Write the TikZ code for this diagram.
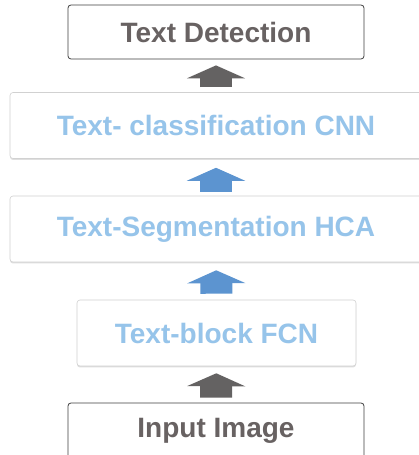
\documentclass[tikz,border=0pt]{standalone}
\usepackage{fontspec}
\setmainfont{Liberation Sans}
\usetikzlibrary{arrows.meta,shadows}
\definecolor{txtgray}{RGB}{104,98,98}
\definecolor{txtblue}{RGB}{150,196,234}
\definecolor{arrgray}{RGB}{100,98,98}
\definecolor{arrblue}{RGB}{92,148,208}
\begin{document}
\begin{tikzpicture}[x=1pt, y=1pt,
    stage/.style={rectangle, rounded corners=3pt, inner sep=0pt, font=\bfseries\fontsize{28}{30}\selectfont},
    endbox/.style={stage, draw=black!75, line width=0.8pt, text=txtgray, minimum width=296pt, minimum height=54pt},
    netbox/.style={stage, draw=black!18, line width=0.6pt, fill=white, text=txtblue, minimum height=66pt,
        drop shadow={shadow xshift=0pt, shadow yshift=-1.5pt, opacity=.25}},
    uparrow/.style={line width=32pt, -{Triangle[width=58pt, length=13pt]}, shorten >=6pt, shorten <=5pt}]
    \clip (0,0) rectangle (419,455);
    \fill[white] (0,0) rectangle (419,455);
    \node[endbox] (det) at (216,423) {Text Detection};
    \node[netbox, minimum width=412pt] (cnn) at (216,329.5) {Text- classification CNN};
    \node[netbox, minimum width=412pt] (hca) at (216,226) {Text-Segmentation HCA};
    \node[netbox, minimum width=279pt] (fcn) at (216.5,122) {Text-block FCN};
    \node[endbox, minimum height=56pt] (inp) at (216,24) {Input Image};
    \draw[uparrow, arrgray] (cnn) -- (det);
    \draw[uparrow, arrblue, shorten >=9pt, shorten <=4pt] (hca) -- (cnn);
    \draw[uparrow, arrblue, shorten >=8pt, shorten <=6pt] (fcn) -- (hca);
    \draw[uparrow, arrgray, shorten >=7pt] (inp) -- (fcn);
\end{tikzpicture}
\end{document}
